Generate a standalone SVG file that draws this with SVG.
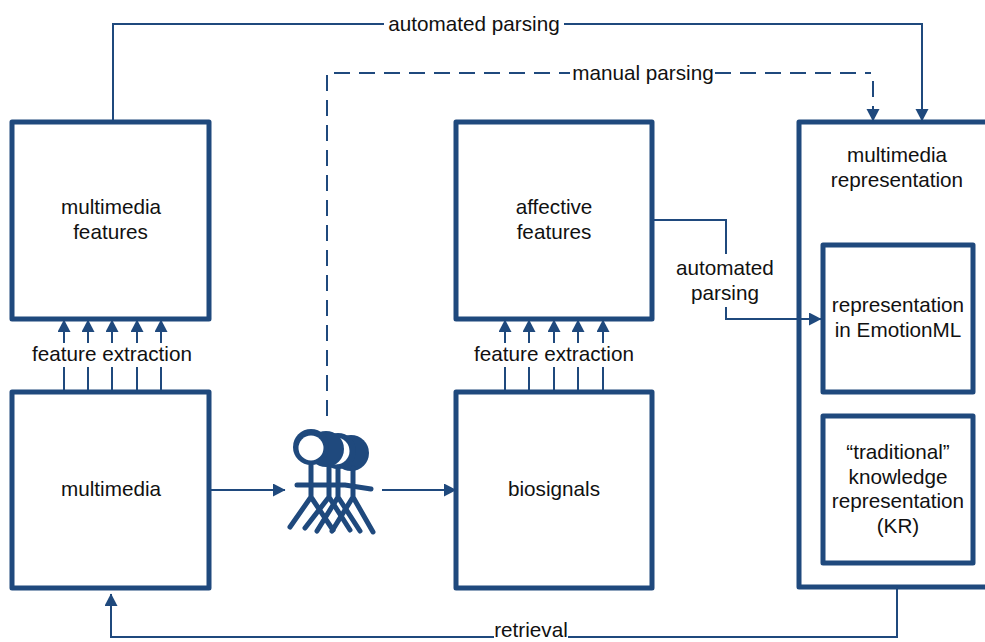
<svg xmlns="http://www.w3.org/2000/svg" width="985" height="642" viewBox="0 0 985 642">
<style>
.box{fill:#fff;stroke:#1f497d;stroke-width:5;stroke-linejoin:round}
.c{fill:none;stroke:#1f497d;stroke-width:2}
.d{stroke-dasharray:16 9}
.p{fill:none;stroke:#1f497d;stroke-width:5;stroke-linecap:round}
.b{fill:#1f497d}
.w{fill:#fff}
text{font-family:"Liberation Sans",Arial,sans-serif;font-size:20.700px;fill:#111;text-anchor:middle}
</style>
<defs>
<marker id="a" markerUnits="userSpaceOnUse" markerWidth="14" markerHeight="14" refX="12" refY="6.5" orient="auto"><path d="M0 0L12.500 6.500L0 13Z" fill="#1f497d"/></marker>
</defs>
<rect width="985" height="642" fill="#fff"/>
<g id="multimedia-features"><rect class="box" x="12" y="122" width="197" height="197"/><text x="111" y="214">multimedia</text><text x="110.500" y="239">features</text></g>
<g id="multimedia"><rect class="box" x="12" y="392" width="197" height="196"/><text x="111" y="496">multimedia</text></g>
<g id="affective-features"><rect class="box" x="456" y="122" width="196" height="197"/><text x="554" y="214">affective</text><text x="554" y="239">features</text></g>
<g id="biosignals"><rect class="box" x="456" y="392" width="196" height="196"/><text x="554" y="496">biosignals</text></g>
<g id="multimedia-representation"><path class="box" d="M990 122H799V587H990"/><text x="897" y="162">multimedia</text><text x="897" y="187">representation</text></g>
<g id="emotionml"><rect class="box" x="823" y="245" width="150" height="147"/><text x="898" y="312">representation</text><text x="898" y="337">in EmotionML</text></g>
<g id="kr"><rect class="box" x="823" y="416" width="150" height="147"/><text x="898" y="459">“traditional”</text><text x="898" y="484">knowledge</text><text x="898" y="508">representation</text><text x="898" y="533">(KR)</text></g>
<g id="connectors">
<path class="c" d="M113 122V24H384"/>
<path class="c" d="M564 24H922V121" marker-end="url(#a)"/>
<path class="c d" d="M327 416V73H570"/>
<path class="c d" d="M715 73H871"/>
<path class="c d" d="M873 81V121" marker-end="url(#a)"/>
<path class="c" d="M64 343V320" marker-end="url(#a)"/><path class="c" d="M88 343V320" marker-end="url(#a)"/><path class="c" d="M112 343V320" marker-end="url(#a)"/><path class="c" d="M137 343V320" marker-end="url(#a)"/><path class="c" d="M161 343V320" marker-end="url(#a)"/>
<path class="c" d="M64 367V391M88 367V391M112 367V391M137 367V391M161 367V391"/>
<path class="c" d="M505 343V320" marker-end="url(#a)"/><path class="c" d="M529 343V320" marker-end="url(#a)"/><path class="c" d="M554 343V320" marker-end="url(#a)"/><path class="c" d="M578 343V320" marker-end="url(#a)"/><path class="c" d="M603 343V320" marker-end="url(#a)"/>
<path class="c" d="M505 367V391M529 367V391M554 367V391M578 367V391M603 367V391"/>
<path class="c" d="M654 220H726V254"/>
<path class="c" d="M726 307V319H821" marker-end="url(#a)"/>
<path class="c" d="M210 490H285" marker-end="url(#a)"/>
<path class="c" d="M382 490H456" marker-end="url(#a)"/>
<path class="c" d="M897 589V637H568"/>
<path class="c" d="M494 637H111V594" marker-end="url(#a)"/>
</g>
<g id="people">
<circle class="b" cx="351" cy="453" r="18"/>
<circle class="b" cx="338" cy="451" r="18"/>
<circle class="w" cx="336" cy="451" r="13.500"/>
<circle class="b" cx="326" cy="449" r="18"/>
<circle class="b" cx="311" cy="447" r="18"/>
<circle class="w" cx="311" cy="448" r="12.500"/>
<path class="p" d="M297 485H345L371 489"/>
<path class="p" d="M311 465V497L290 527M311 497L333 530"/>
<path class="p" d="M329 467V497L305 528M329 497L350 530"/>
<path class="p" d="M338 467V497L317 531M338 497L360 531"/>
<path class="p" d="M353 468V497L332 531M353 497L373 532"/>
</g>
<g id="labels">
<text x="474" y="31">automated parsing</text>
<text x="643" y="80">manual parsing</text>
<text x="112" y="361">feature extraction</text>
<text x="554" y="361">feature extraction</text>
<text x="725" y="275">automated</text>
<text x="725" y="300">parsing</text>
<text x="531" y="637">retrieval</text>
</g>
</svg>
